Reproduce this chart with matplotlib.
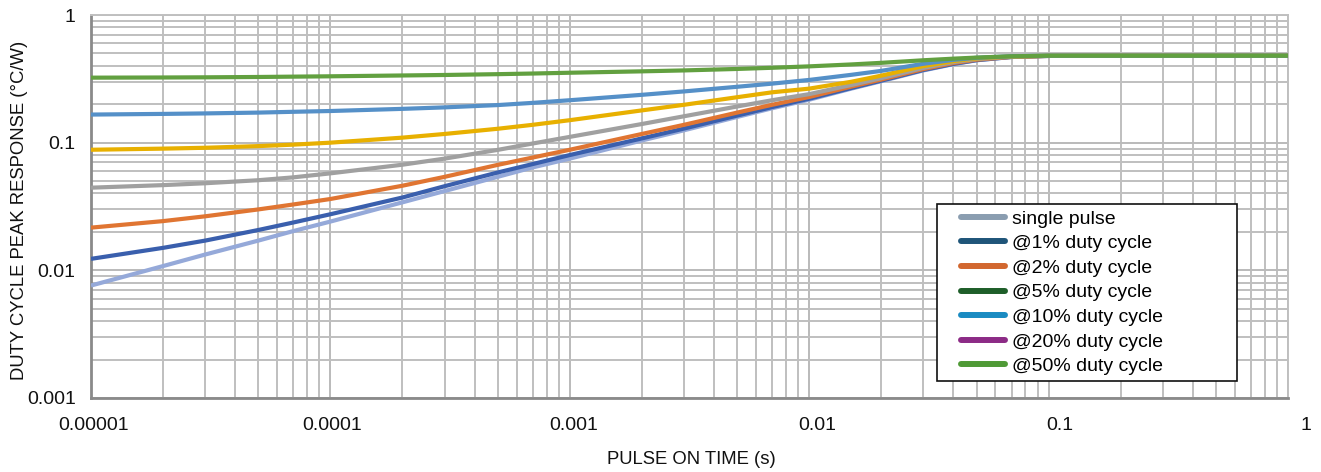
import matplotlib
matplotlib.use("Agg")
import matplotlib.pyplot as plt
from matplotlib.lines import Line2D
from matplotlib.legend_handler import HandlerLine2D
from matplotlib.ticker import LogLocator, FixedLocator, NullFormatter
import matplotlib.transforms as mtransforms

plt.rcParams['font.family'] = ['Liberation Sans', 'DejaVu Sans']

# ---- data ----
pulse_time = [1e-5, 2e-5, 3e-5, 5e-5, 7e-5, 1e-4, 2e-4, 3e-4, 5e-4, 7e-4, 1e-3, 2e-3, 3e-3,
              5e-3, 7e-3, 1e-2, 1.5e-2, 2e-2, 3e-2, 4e-2, 5e-2, 7e-2, 1e-1, 0.2, 0.5, 1.0]

single_pulse = [0.0076, 0.0108, 0.0133, 0.0171, 0.0203, 0.0241, 0.0341, 0.0418, 0.0540, 0.0640,
                0.0750, 0.1040, 0.1250, 0.1590, 0.1860, 0.2170, 0.2650, 0.3030, 0.3680, 0.4120,
                0.4420, 0.4690, 0.4780, 0.4800, 0.4800, 0.4800]
duty_1 = [0.0123, 0.0150, 0.0171, 0.0207, 0.0237, 0.0275, 0.0372, 0.0456, 0.0584, 0.0680,
          0.0800, 0.1080, 0.1290, 0.1630, 0.1900, 0.2210, 0.2680, 0.3060, 0.3710, 0.4140,
          0.4430, 0.4690, 0.4780, 0.4800, 0.4800, 0.4800]
duty_2 = [0.0216, 0.0243, 0.0265, 0.0300, 0.0328, 0.0362, 0.0460, 0.0540, 0.0670, 0.0765,
          0.0880, 0.1170, 0.1380, 0.1720, 0.1980, 0.2280, 0.2750, 0.3120, 0.3770, 0.4200,
          0.4470, 0.4700, 0.4780, 0.4800, 0.4800, 0.4800]
duty_5 = [0.0444, 0.0465, 0.0481, 0.0508, 0.0535, 0.0575, 0.0672, 0.0750, 0.0878, 0.0985,
          0.1110, 0.1400, 0.1610, 0.1920, 0.2150, 0.2400, 0.2830, 0.3200, 0.3850, 0.4270,
          0.4520, 0.4720, 0.4790, 0.4800, 0.4800, 0.4800]
duty_10 = [0.0880, 0.0898, 0.0912, 0.0940, 0.0965, 0.1000, 0.1095, 0.1170, 0.1285, 0.1380,
           0.1500, 0.1790, 0.1980, 0.2270, 0.2480, 0.2650, 0.3000, 0.3350, 0.3980, 0.4350,
           0.4570, 0.4740, 0.4790, 0.4800, 0.4800, 0.4800]
duty_20 = [0.1660, 0.1680, 0.1695, 0.1720, 0.1745, 0.1770, 0.1840, 0.1890, 0.1970, 0.2050,
           0.2150, 0.2370, 0.2520, 0.2740, 0.2900, 0.3100, 0.3400, 0.3650, 0.4150, 0.4450,
           0.4620, 0.4760, 0.4800, 0.4800, 0.4800, 0.4800]
duty_50 = [0.3230, 0.3240, 0.3250, 0.3270, 0.3290, 0.3310, 0.3360, 0.3390, 0.3440, 0.3480,
           0.3530, 0.3620, 0.3680, 0.3780, 0.3860, 0.3960, 0.4100, 0.4220, 0.4420, 0.4550,
           0.4640, 0.4750, 0.4800, 0.4800, 0.4800, 0.4800]

series_values = [single_pulse, duty_1, duty_2, duty_5, duty_10, duty_20, duty_50]
series_labels = ["single pulse", "@1% duty cycle", "@2% duty cycle", "@5% duty cycle",
                 "@10% duty cycle", "@20% duty cycle", "@50% duty cycle"]
line_colors = ["#95a9d9", "#3a5fad", "#e07532", "#a0a0a0", "#e8b000", "#5590c8", "#62a040"]
legend_colors = ["#8a9db0", "#1f5579", "#d2672f", "#1e5e29", "#1a8bc2", "#8c2b86", "#4f9a36"]

x_ticks = [1e-5, 1e-4, 1e-3, 1e-2, 1e-1, 1]
x_tick_labels = ["0.00001", "0.0001", "0.001", "0.01", "0.1", "1"]
y_ticks = [1e-3, 1e-2, 1e-1, 1]
y_tick_labels = ["0.001", "0.01", "0.1", "1"]

# ---- figure ----
W, H = 1321, 472
fig = plt.figure(figsize=(W / 100, H / 100), dpi=100)
ax = fig.add_axes([91 / W, (H - 398) / H, 1197 / W, 383 / H])

ax.set_xscale('log')
ax.set_yscale('log')
ax.set_xlim(1e-5, 1)
ax.set_ylim(1e-3, 1)

for vals, col in zip(series_values, line_colors):
    ax.plot(pulse_time, vals, color=col, lw=3.0, solid_capstyle='butt',
            solid_joinstyle='round', zorder=3)

# grid
ax.xaxis.set_major_locator(FixedLocator(x_ticks))
ax.yaxis.set_major_locator(FixedLocator(y_ticks))
ax.xaxis.set_minor_locator(LogLocator(base=10, subs=range(2, 10), numticks=20))
ax.yaxis.set_minor_locator(LogLocator(base=10, subs=range(2, 10), numticks=20))
ax.xaxis.set_minor_formatter(NullFormatter())
ax.yaxis.set_minor_formatter(NullFormatter())
ax.grid(True, which='major', color='#bababa', lw=1.4, zorder=0)
ax.grid(True, which='minor', color='#bfbfbf', lw=1.4, zorder=0)
ax.set_axisbelow(True)

ax.set_xticklabels(x_tick_labels)
ax.set_yticklabels(y_tick_labels)
ax.tick_params(which='both', length=0)
ax.tick_params(axis='x', pad=14, labelsize=14, labelcolor='#111111')
ax.tick_params(axis='y', pad=11, labelsize=14, labelcolor='#111111')

# small rightward shifts of x tick labels as in reference
shifts = [3, 2, 4, 8, 11, 18]
for lab, s in zip(ax.get_xticklabels(), shifts):
    lab.set_transform(lab.get_transform() + mtransforms.ScaledTranslation(s / 100, 0, fig.dpi_scale_trans))

for side in ['left', 'bottom']:
    ax.spines[side].set_color('#8a8a8a')
    ax.spines[side].set_linewidth(2.0)
for side in ['top', 'right']:
    ax.spines[side].set_color('#c0c0c0')
    ax.spines[side].set_linewidth(1.4)

fig.text(20 / W, 1 - 210 / H, "DUTY CYCLE PEAK RESPONSE (°C/W)", rotation=90,
         ha='center', va='center', fontsize=13.3, color='#111111')
fig.text(691 / W, 1 - 460 / H, "PULSE ON TIME (s)", ha='center', va='center',
         fontsize=13.3, color='#111111')


class LeadHandler(HandlerLine2D):
    """Line handle that starts a little way into the handle box."""
    def __init__(self, lead_pt, **kw):
        super().__init__(**kw)
        self.lead_pt = lead_pt

    def create_artists(self, legend, orig_handle, xdescent, ydescent, width, height,
                       fontsize, trans):
        y = height / 2 - ydescent
        line = Line2D([-xdescent + self.lead_pt, -xdescent + width], [y, y],
                      color=orig_handle.get_color(), lw=orig_handle.get_linewidth(),
                      solid_capstyle='round')
        line.set_transform(trans)
        return [line]


FS = 14
fs_px = FS * 100 / 72
handles = [Line2D([0], [0], color=c, lw=4.3) for c in legend_colors]
bpad = 0.3
area_start = 937 + bpad * fs_px
lead_px = 960.5 - area_start
handle_len = (1004.5 - area_start) / fs_px
leg = ax.legend(handles, series_labels, loc='upper left', mode='expand',
                bbox_to_anchor=((937 - 91) / 1197, (398 - 208) / 383, 300 / 1197, 0.01),
                fontsize=FS, frameon=True, fancybox=False, edgecolor='#111111',
                framealpha=1.0, borderpad=bpad, handlelength=handle_len,
                handletextpad=(1012 - 1004.5) / fs_px,
                labelspacing=0.36, borderaxespad=0,
                handler_map={h: LeadHandler(lead_px * 72 / 100) for h in handles})
leg.get_frame().set_linewidth(1.2)
leg.set_zorder(5)

fig.savefig("out.png", dpi=100)
